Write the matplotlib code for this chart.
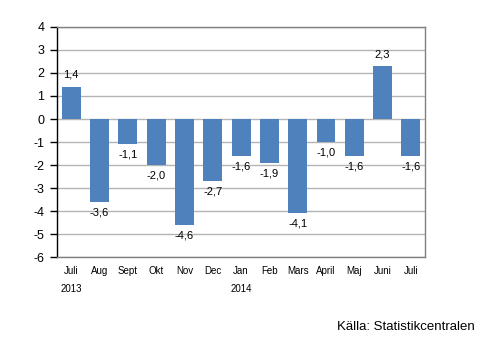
import matplotlib
matplotlib.use("Agg")
import matplotlib.pyplot as plt

plt.rcParams["font.family"] = ["Liberation Sans", "DejaVu Sans"]

months = ["Juli", "Aug", "Sept", "Okt", "Nov", "Dec", "Jan", "Feb", "Mars", "April", "Maj", "Juni", "Juli"]
values = [1.4, -3.6, -1.1, -2.0, -4.6, -2.7, -1.6, -1.9, -4.1, -1.0, -1.6, 2.3, -1.6]
years = {0: "2013", 6: "2014"}
yticks = [4, 3, 2, 1, 0, -1, -2, -3, -4, -5, -6]

fig = plt.figure(figsize=(4.96, 3.41), dpi=100)
ax = fig.add_axes([0.115, 0.246, 0.742, 0.675])
x = list(range(len(months)))
ax.bar(x, values, width=0.67, color="#4f81bd", zorder=3)
ax.set_xlim(-0.5, len(months) - 0.5)
ax.set_ylim(-6, 4)
ax.set_yticks(yticks)
ax.set_yticklabels([str(t) for t in yticks], fontsize=9)
ax.yaxis.grid(True, color="#b4b4b4", linewidth=1, zorder=0)
ax.set_xticks([])
for s in ["top", "right", "bottom"]:
    ax.spines[s].set_color("#808080")
    ax.spines[s].set_linewidth(1)
ax.spines["left"].set_color("black")
ax.spines["left"].set_linewidth(1)
ax.tick_params(axis="y", direction="out", length=5, width=1, color="black", pad=4)

for i, v in enumerate(values):
    lbl = f"{v:.1f}".replace(".", ",")
    if v >= 0:
        ax.annotate(lbl, (i, v), xytext=(0, 5), textcoords="offset points", ha="center", va="bottom", fontsize=8)
    else:
        ax.annotate(lbl, (i, v), xytext=(0, -4), textcoords="offset points", ha="center", va="top", fontsize=8)

for i, m in enumerate(months):
    ax.annotate(m, (i, -6), xytext=(0, -6.5), textcoords="offset points", ha="center", va="top", fontsize=7, annotation_clip=False)
for i, yv in years.items():
    ax.annotate(yv, (i, -6), xytext=(0, -19.5), textcoords="offset points", ha="center", va="top", fontsize=7, annotation_clip=False)

fig.text(0.958, 0.04, "Källa: Statistikcentralen", ha="right", va="center", fontsize=9.5)
fig.savefig("out.png", dpi=100)
